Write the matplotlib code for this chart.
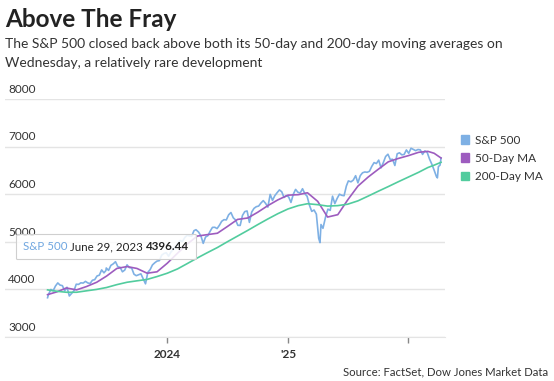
import matplotlib
matplotlib.use("Agg")
import matplotlib.pyplot as plt
from matplotlib.patches import Patch
from matplotlib.offsetbox import TextArea, HPacker, AnnotationBbox
import pandas as pd

# S&P 500 closes (roughly weekly)
spx_dates = [
    "2023-01-03", "2023-01-06", "2023-01-13", "2023-01-20", "2023-01-27", "2023-02-03", "2023-02-10",
    "2023-02-17", "2023-02-24", "2023-03-03", "2023-03-10", "2023-03-17", "2023-03-24", "2023-03-31",
    "2023-04-07", "2023-04-14", "2023-04-21", "2023-04-28", "2023-05-05", "2023-05-12", "2023-05-19",
    "2023-05-26", "2023-06-02", "2023-06-09", "2023-06-16", "2023-06-23", "2023-06-29", "2023-06-30",
    "2023-07-07", "2023-07-14", "2023-07-21", "2023-07-28", "2023-08-04", "2023-08-11", "2023-08-18",
    "2023-08-25", "2023-09-01", "2023-09-08", "2023-09-15", "2023-09-22", "2023-09-29", "2023-10-06",
    "2023-10-13", "2023-10-20", "2023-10-27", "2023-11-03", "2023-11-10", "2023-11-17", "2023-11-24",
    "2023-12-01", "2023-12-08", "2023-12-15", "2023-12-22", "2023-12-29",
    "2024-01-05", "2024-01-12", "2024-01-19", "2024-01-26", "2024-02-02", "2024-02-09", "2024-02-16",
    "2024-02-23", "2024-03-01", "2024-03-08", "2024-03-15", "2024-03-22", "2024-03-28", "2024-04-05",
    "2024-04-12", "2024-04-19", "2024-04-26", "2024-05-03", "2024-05-10", "2024-05-17", "2024-05-24",
    "2024-05-31", "2024-06-07", "2024-06-14", "2024-06-21", "2024-06-28", "2024-07-05", "2024-07-12",
    "2024-07-19", "2024-07-26", "2024-08-02", "2024-08-09", "2024-08-16", "2024-08-23", "2024-08-30",
    "2024-09-06", "2024-09-13", "2024-09-20", "2024-09-27", "2024-10-04", "2024-10-11", "2024-10-18",
    "2024-10-25", "2024-11-01", "2024-11-08", "2024-11-15", "2024-11-22", "2024-11-29", "2024-12-06",
    "2024-12-13", "2024-12-20", "2024-12-27",
    "2025-01-03", "2025-01-10", "2025-01-17", "2025-01-24", "2025-01-31", "2025-02-07", "2025-02-14",
    "2025-02-21", "2025-02-28", "2025-03-07", "2025-03-14", "2025-03-21", "2025-03-28", "2025-04-04",
    "2025-04-08", "2025-04-11", "2025-04-17", "2025-04-25", "2025-05-02", "2025-05-09", "2025-05-16",
    "2025-05-23", "2025-05-30", "2025-06-06", "2025-06-13", "2025-06-20", "2025-06-27", "2025-07-03",
    "2025-07-11", "2025-07-18", "2025-07-25", "2025-08-01", "2025-08-08", "2025-08-15", "2025-08-22",
    "2025-08-29", "2025-09-05", "2025-09-12", "2025-09-19", "2025-09-26", "2025-10-03", "2025-10-10",
    "2025-10-17", "2025-10-24", "2025-10-31", "2025-11-07", "2025-11-14", "2025-11-21", "2025-11-28",
    "2025-12-05", "2025-12-12", "2025-12-19", "2025-12-26",
    "2026-01-02", "2026-01-09", "2026-01-16", "2026-01-23", "2026-01-30", "2026-02-06", "2026-02-13",
    "2026-02-20", "2026-02-27", "2026-03-06", "2026-03-13", "2026-03-20", "2026-03-27", "2026-03-30",
    "2026-04-02", "2026-04-07", "2026-04-10",
]
spx_values = [
    3825, 3895, 3999, 3972, 4071, 4136, 4090,
    4079, 3970, 4045, 3862, 3917, 3971, 4109,
    4105, 4138, 4133, 4169, 4136, 4124, 4192,
    4205, 4282, 4299, 4410, 4348, 4396.44, 4450,
    4399, 4505, 4536, 4582, 4478, 4464, 4370,
    4406, 4516, 4457, 4450, 4320, 4288, 4308,
    4327, 4224, 4117, 4358, 4415, 4514, 4559,
    4595, 4604, 4719, 4755, 4770,
    4697, 4784, 4840, 4891, 4959, 5027, 5006,
    5089, 5137, 5124, 5117, 5234, 5254, 5204,
    5123, 4967, 5100, 5128, 5223, 5303, 5305,
    5278, 5347, 5431, 5465, 5460, 5567, 5615,
    5505, 5459, 5346, 5344, 5554, 5635, 5648,
    5408, 5626, 5703, 5738, 5751, 5815, 5865,
    5808, 5729, 5996, 5870, 5969, 6032, 6090,
    6051, 5931, 5971,
    5942, 5827, 5997, 6101, 6041, 6026, 6115,
    6013, 5955, 5770, 5639, 5668, 5581, 5074,
    4983, 5363, 5283, 5525, 5686, 5660, 5958,
    5803, 5912, 6000, 5977, 5968, 6173, 6279,
    6260, 6297, 6389, 6238, 6389, 6450, 6467,
    6460, 6482, 6584, 6664, 6644, 6716, 6553,
    6664, 6792, 6840, 6728, 6734, 6603, 6849,
    6870, 6827, 6834, 6930,
    6858, 6966, 6940, 6915, 6939, 6932, 6836,
    6909, 6878, 6740, 6632, 6506, 6370, 6343,
    6580, 6610, 6760,
]

# moving averages (monthly)
ma_dates = [
    "2023-01-03", "2023-02-01", "2023-03-01", "2023-04-01", "2023-05-01", "2023-06-01", "2023-07-01",
    "2023-08-01", "2023-09-01", "2023-10-01", "2023-11-01", "2023-12-01",
    "2024-01-01", "2024-02-01", "2024-03-01", "2024-04-01", "2024-05-01", "2024-06-01", "2024-07-01",
    "2024-08-01", "2024-09-01", "2024-10-01", "2024-11-01", "2024-12-01",
    "2025-01-01", "2025-02-01", "2025-03-01", "2025-04-01", "2025-05-01", "2025-06-01", "2025-07-01",
    "2025-08-01", "2025-09-01", "2025-10-01", "2025-11-01", "2025-12-01",
    "2026-01-01", "2026-02-01", "2026-03-01", "2026-03-20", "2026-04-10",
]
ma50 = [
    3890, 3950, 4030, 3990, 4060, 4150, 4280,
    4440, 4480, 4440, 4340, 4370,
    4550, 4760, 4950, 5120, 5150, 5180, 5320,
    5470, 5500, 5620, 5760, 5880,
    5980, 5990, 6030, 5850, 5520, 5570, 5880,
    6170, 6360, 6520, 6680, 6750,
    6810, 6880, 6900, 6860, 6760,
]
ma200 = [
    3990, 3960, 3940, 3940, 3970, 4000, 4040,
    4100, 4150, 4180, 4210, 4270,
    4340, 4430, 4540, 4660, 4770, 4880, 5000,
    5120, 5240, 5360, 5480, 5590,
    5690, 5760, 5800, 5780, 5750, 5760, 5790,
    5860, 5960, 6060, 6160, 6260,
    6360, 6460, 6560, 6610, 6670,
]

y_ticks = [3000, 4000, 5000, 6000, 7000, 8000]
x_ticks = ["2024-01-01", "2025-01-01", "2026-01-01"]
x_labels = ["2024", "'25", ""]

BLUE = "#7eb0e4"
PURPLE = "#9d5cbf"
GREEN = "#52cc9e"
TXT = "#333333"

plt.rcParams["font.family"] = ["Lato", "DejaVu Sans"]

fig = plt.figure(figsize=(5.54, 3.81), dpi=100)
ax = fig.add_axes([5 / 554, 44 / 381, 440 / 554, 238 / 381])

d_spx = pd.to_datetime(spx_dates)
d_ma = pd.to_datetime(ma_dates)
ax.plot(d_spx, spx_values, color=BLUE, lw=1.2, zorder=3)
ax.plot(d_ma, ma50, color=PURPLE, lw=1.2, zorder=4)
ax.plot(d_ma, ma200, color=GREEN, lw=1.2, zorder=5)

ax.set_ylim(3000, 8000)
ax.set_xlim(pd.Timestamp("2022-08-27"), pd.Timestamp("2026-04-22"))
ax.set_yticks(y_ticks)
ax.yaxis.grid(True, color="#e4e4e4", lw=1)
ax.set_axisbelow(True)
ax.tick_params(axis="y", length=0, labelleft=False)
for v in y_ticks:
    ax.text(0.007, v + 90, str(v), transform=ax.get_yaxis_transform(), fontsize=8.5,
            color=TXT, ha="left", va="bottom")

ax.set_xticks(pd.to_datetime(x_ticks))
ax.set_xticklabels(x_labels, fontsize=8.5, fontweight="bold", color=TXT)
ax.tick_params(axis="x", length=4, width=1, color="#888888", pad=5)
for s in ["top", "right", "left"]:
    ax.spines[s].set_visible(False)
ax.spines["bottom"].set_color("#e4e4e4")

# tooltip
tip = HPacker(children=[
    TextArea("S&P 500 ", textprops=dict(color="#6fa6e0", fontsize=8.3)),
    TextArea("June 29, 2023 ", textprops=dict(color="#222222", fontsize=8.3)),
    TextArea("4396.44", textprops=dict(color="#222222", fontsize=8.3, fontweight="bold")),
], sep=0, pad=0)
ab = AnnotationBbox(tip, (pd.Timestamp("2023-06-29"), 4396.44), xybox=(0, 17),
                    boxcoords="offset points", frameon=True, pad=0.5, zorder=10,
                    bboxprops=dict(facecolor=(1, 1, 1, 0.85), edgecolor="#cfcfcf", lw=0.8,
                                   boxstyle="round,pad=0.5,rounding_size=0.1"))
ax.add_artist(ab)

# legend
handles = [Patch(color=BLUE, label="S&P 500"), Patch(color=PURPLE, label="50-Day MA"),
           Patch(color=GREEN, label="200-Day MA")]
fig.legend(handles=handles, loc="upper left", bbox_to_anchor=(450 / 554, 1 - 124 / 381),
           frameon=False, fontsize=8.5, handlelength=0.7, handleheight=0.7,
           handletextpad=0.5, labelspacing=0.6, labelcolor=TXT)

fig.text(5 / 554, 1 - 27 / 381, "Above The Fray", fontsize=17.5, fontweight="bold",
         color="#222222", va="baseline")
fig.text(5 / 554, 1 - 48 / 381,
         "The S&P 500 closed back above both its 50-day and 200-day moving averages on",
         fontsize=10, color=TXT, va="baseline")
fig.text(5 / 554, 1 - 67 / 381, "Wednesday, a relatively rare development",
         fontsize=10, color=TXT, va="baseline")
fig.text(548 / 554, 1 - 375 / 381, "Source: FactSet, Dow Jones Market Data",
         fontsize=8.2, color=TXT, ha="right", va="baseline")

fig.savefig("out.png", dpi=100)
